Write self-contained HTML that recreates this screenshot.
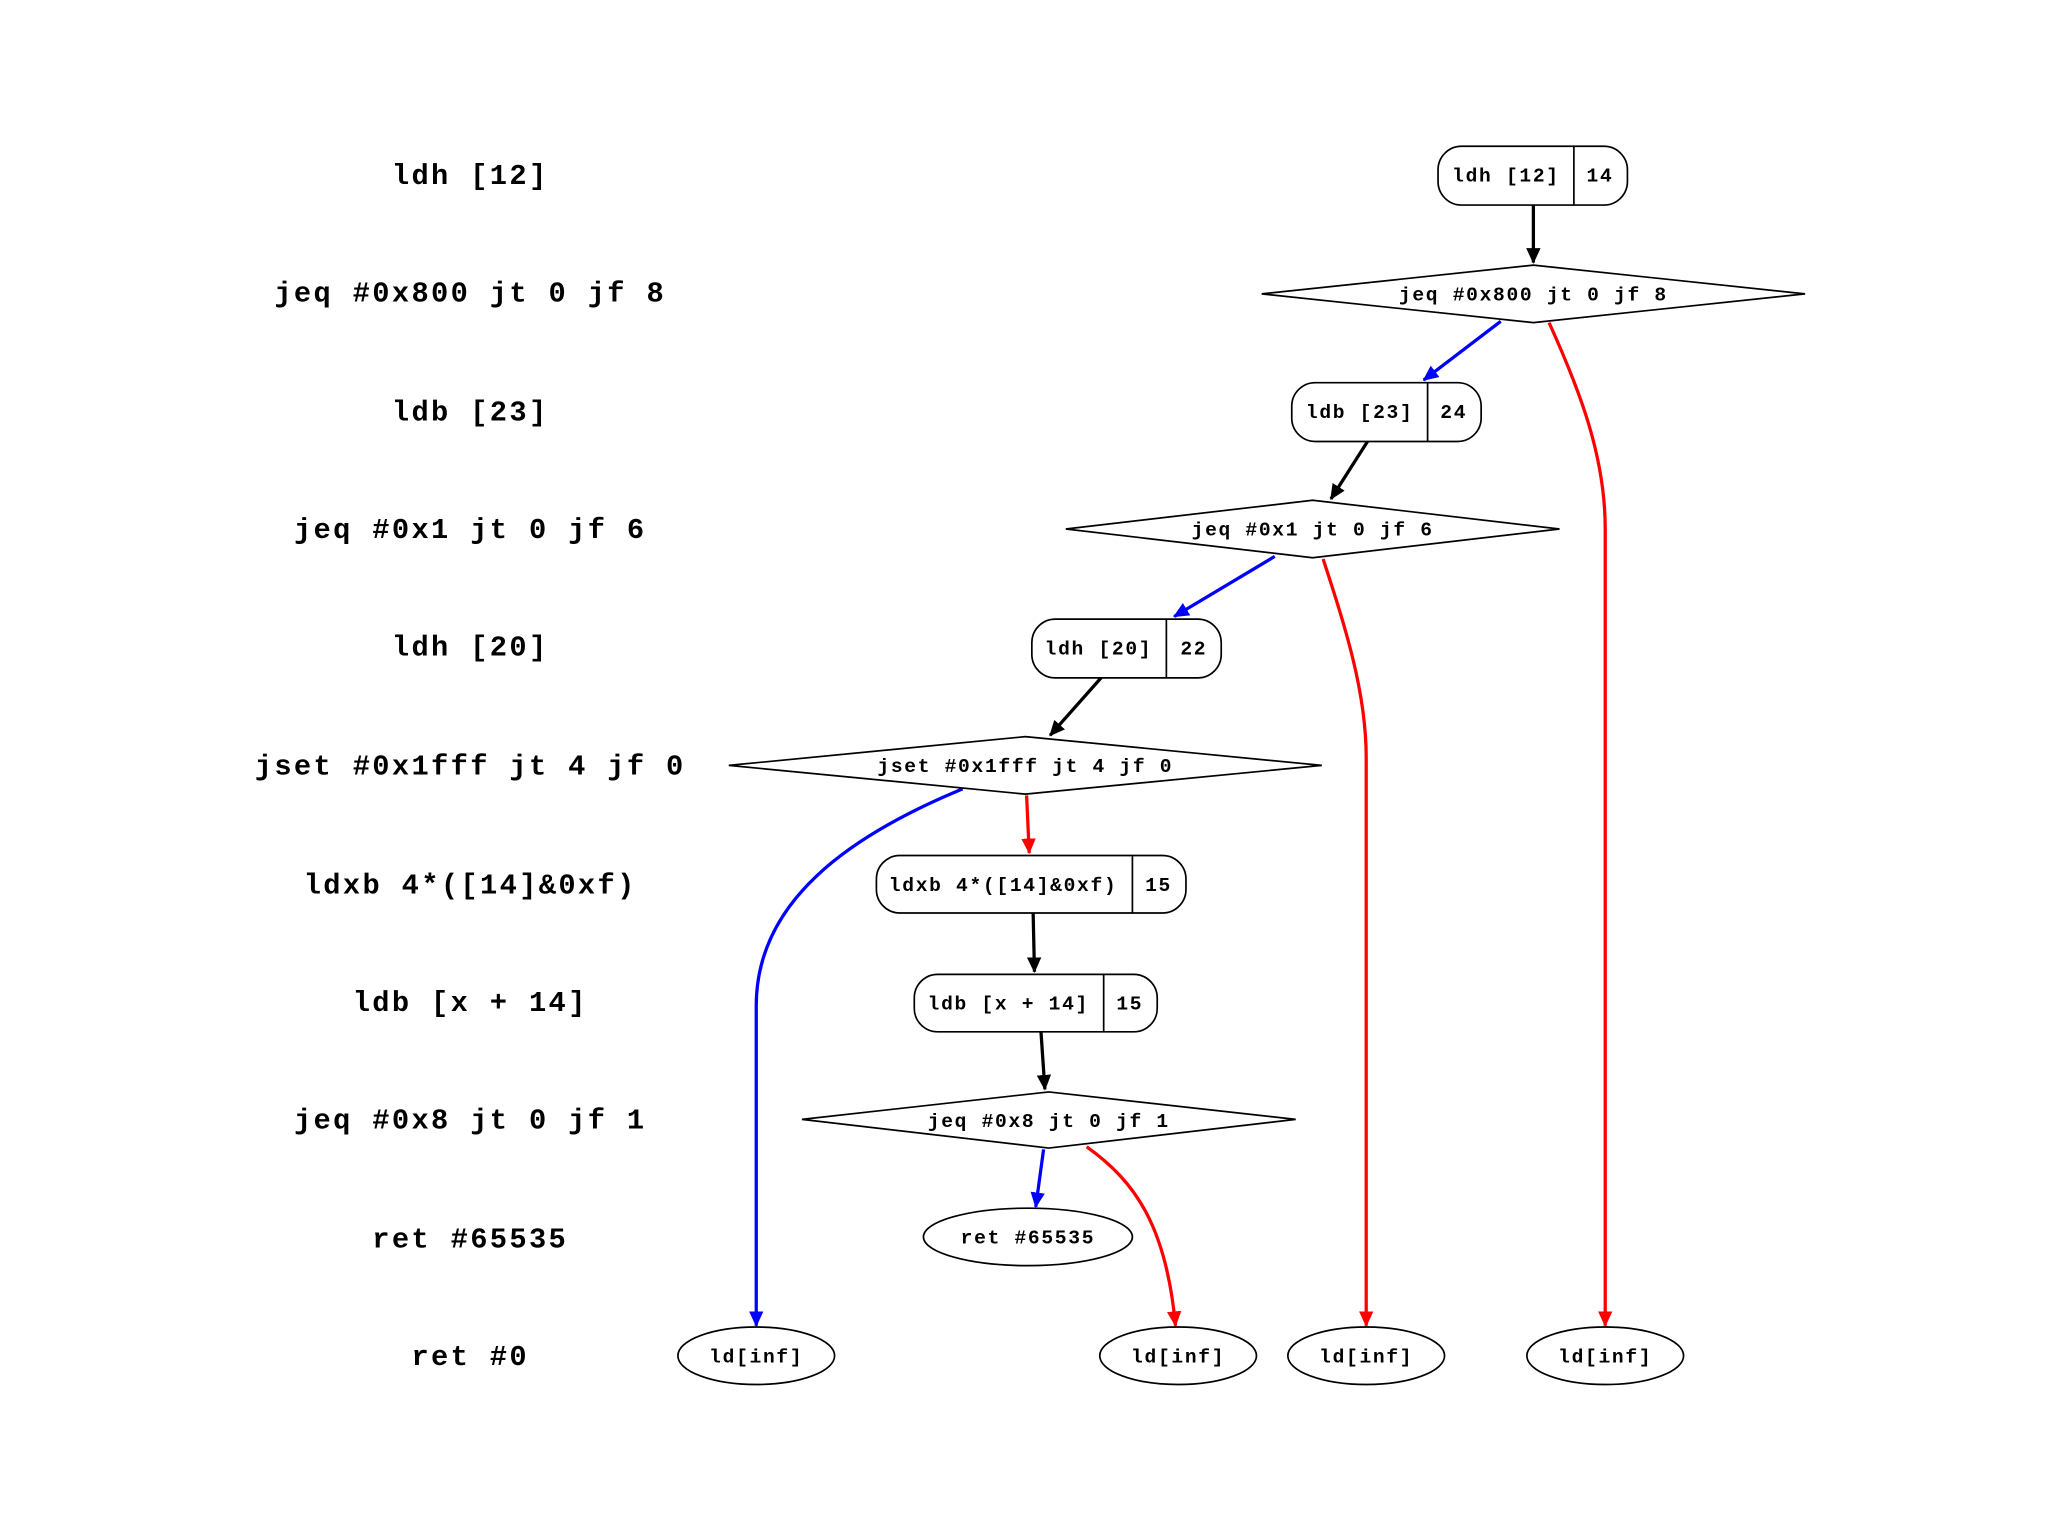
<!DOCTYPE html>
<html><head><meta charset="utf-8"><style>
html,body{margin:0;padding:0;background:#fff;}
svg{display:block;}
text{font-family:"Liberation Mono",monospace;font-weight:bold;fill:#000;}
.l{font-size:22px;text-anchor:middle;letter-spacing:1.8px;}
.n{font-size:15px;text-anchor:middle;letter-spacing:1.3px;}
</style></head><body>
<svg width="2048" height="1536" viewBox="0 0 1568 1176" xmlns="http://www.w3.org/2000/svg">
<defs>
<marker id="ak" markerWidth="12" markerHeight="12" refX="11" refY="5.5" orient="auto" markerUnits="userSpaceOnUse"><path d="M0,0 L12,5.5 L0,11 z" fill="#000"/></marker>
<marker id="ab" markerWidth="12" markerHeight="12" refX="11" refY="5.5" orient="auto" markerUnits="userSpaceOnUse"><path d="M0,0 L12,5.5 L0,11 z" fill="#00f"/></marker>
<marker id="ar" markerWidth="12" markerHeight="12" refX="11" refY="5.5" orient="auto" markerUnits="userSpaceOnUse"><path d="M0,0 L12,5.5 L0,11 z" fill="#f00"/></marker>
</defs>
<g>
<text x="360" y="141" class="l">ldh [12]</text>
<text x="360" y="231" class="l">jeq #0x800 jt 0 jf 8</text>
<text x="360" y="322" class="l">ldb [23]</text>
<text x="360" y="412" class="l">jeq #0x1 jt 0 jf 6</text>
<text x="360" y="502" class="l">ldh [20]</text>
<text x="360" y="593" class="l">jset #0x1fff jt 4 jf 0</text>
<text x="360" y="684" class="l">ldxb 4*([14]&amp;0xf)</text>
<text x="360" y="774" class="l">ldb [x + 14]</text>
<text x="360" y="864" class="l">jeq #0x8 jt 0 jf 1</text>
<text x="360" y="955" class="l">ret #65535</text>
<text x="360" y="1045" class="l">ret #0</text>
</g>
<g fill="none" stroke-width="2.5">
<line x1="1174" y1="157" x2="1174" y2="201" stroke="#000" marker-end="url(#ak)"/>
<line x1="1149" y1="246" x2="1090" y2="291" stroke="#00f" marker-end="url(#ab)"/>
<path d="M1186,247 C1210,300 1229,350 1229,405 L1229,1015" stroke="#f00" marker-end="url(#ar)"/>
<line x1="1047" y1="338" x2="1019" y2="382" stroke="#000" marker-end="url(#ak)"/>
<line x1="976" y1="426" x2="899" y2="472" stroke="#00f" marker-end="url(#ab)"/>
<path d="M1013,428 C1030,480 1046,530 1046,580 L1046,1015" stroke="#f00" marker-end="url(#ar)"/>
<line x1="843" y1="519" x2="804" y2="563" stroke="#000" marker-end="url(#ak)"/>
<path d="M737,604 C650,640 579,690 579,770 L579,1015" stroke="#00f" marker-end="url(#ab)"/>
<line x1="786" y1="609" x2="788" y2="653" stroke="#f00" marker-end="url(#ar)"/>
<line x1="791" y1="699" x2="792" y2="744" stroke="#000" marker-end="url(#ak)"/>
<line x1="797" y1="790" x2="800" y2="834" stroke="#000" marker-end="url(#ak)"/>
<line x1="799" y1="880" x2="793" y2="924" stroke="#00f" marker-end="url(#ab)"/>
<path d="M832,878 C870,905 893,940 900,1015" stroke="#f00" marker-end="url(#ar)"/>
</g>
<g fill="#fff" stroke="#000" stroke-width="1.3">
<rect x="1101" y="112" width="145" height="45" rx="18"/><line x1="1205" y1="112" x2="1205" y2="157"/>
<polygon points="966,225 1174,203 1382,225 1174,247"/>
<rect x="989" y="293" width="145" height="45" rx="18"/><line x1="1093" y1="293" x2="1093" y2="338"/>
<polygon points="816,405 1005,383 1194,405 1005,427"/>
<rect x="790" y="474" width="145" height="45" rx="18"/><line x1="893" y1="474" x2="893" y2="519"/>
<polygon points="558,586 785,564 1012,586 785,608"/>
<rect x="671" y="655" width="237" height="44" rx="18"/><line x1="867" y1="655" x2="867" y2="699"/>
<rect x="700" y="746" width="186" height="44" rx="18"/><line x1="845" y1="746" x2="845" y2="790"/>
<polygon points="614,857 803,836 992,857 803,879"/>
<ellipse cx="787" cy="947" rx="80" ry="22"/>
<ellipse cx="579" cy="1038" rx="60" ry="22"/>
<ellipse cx="902" cy="1038" rx="60" ry="22"/>
<ellipse cx="1046" cy="1038" rx="60" ry="22"/>
<ellipse cx="1229" cy="1038" rx="60" ry="22"/>
</g>
<g>
<text x="1153" y="139" class="n">ldh [12]</text><text x="1225" y="139" class="n">14</text>
<text x="1174" y="230" class="n">jeq #0x800 jt 0 jf 8</text>
<text x="1041" y="320" class="n">ldb [23]</text><text x="1113" y="320" class="n">24</text>
<text x="1005" y="410" class="n">jeq #0x1 jt 0 jf 6</text>
<text x="841" y="501" class="n">ldh [20]</text><text x="914" y="501" class="n">22</text>
<text x="785" y="591" class="n">jset #0x1fff jt 4 jf 0</text>
<text x="768" y="682" class="n">ldxb 4*([14]&amp;0xf)</text><text x="887" y="682" class="n">15</text>
<text x="772" y="773" class="n">ldb [x + 14]</text><text x="865" y="773" class="n">15</text>
<text x="803" y="863" class="n">jeq #0x8 jt 0 jf 1</text>
<text x="787" y="952" class="n">ret #65535</text>
<text x="579" y="1043" class="n">ld[inf]</text>
<text x="902" y="1043" class="n">ld[inf]</text>
<text x="1046" y="1043" class="n">ld[inf]</text>
<text x="1229" y="1043" class="n">ld[inf]</text>
</g>
</svg>
</body></html>
